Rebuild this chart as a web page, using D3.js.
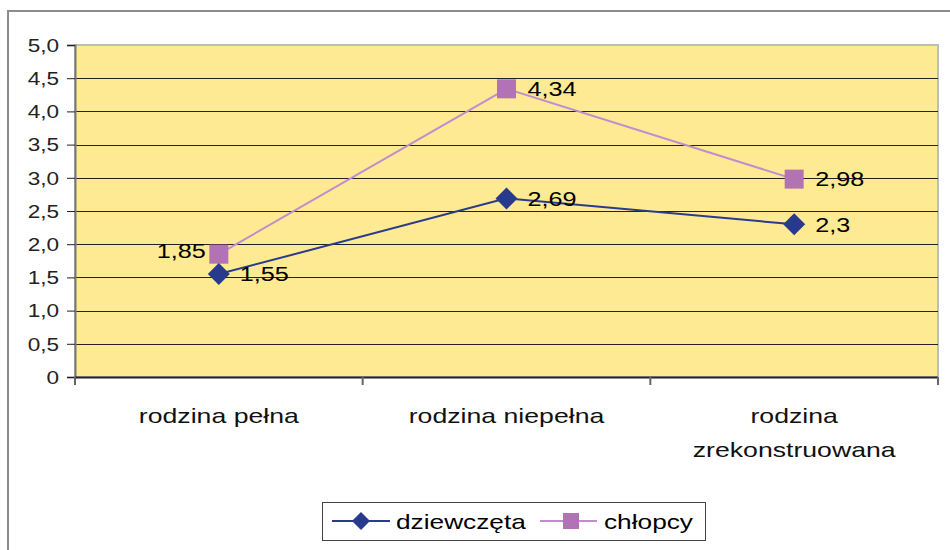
<!DOCTYPE html>
<html><head><meta charset="utf-8">
<script src="https://cdn.jsdelivr.net/npm/d3@7"></script>
<style>body{margin:0;background:#fff}svg{display:block;font-family:"Liberation Sans",Arial,sans-serif}</style>
</head><body>
<svg id="c" width="950" height="550"></svg>
<script>
const categories = ["rodzina pełna", "rodzina niepełna", "rodzina zrekonstruowana"];
const dziewczeta = [1.55, 2.69, 2.3];
const chlopcy = [1.85, 4.34, 2.98];
const yTicks = [0, 0.5, 1.0, 1.5, 2.0, 2.5, 3.0, 3.5, 4.0, 4.5, 5.0];
const seriesNames = ["dziewczęta", "chłopcy"];

const svg = d3.select("#c");
const L = 75, R = 938, T = 45, B = 377;
const fmt = v => v === 0 ? "0" : d3.format(".1f")(v).replace(".", ",");
const fmtLabel = v => String(v).replace(".", ",");

// horizontally stretched text helper
function stext(parent, px, py, txt, size, sx, anchor) {
  return parent.append("text")
    .attr("transform", `translate(${px},${py}) scale(${sx},1)`)
    .attr("x", 0).attr("y", 0)
    .attr("text-anchor", anchor || "start")
    .attr("dominant-baseline", "central")
    .attr("font-size", size).attr("fill", "#111").text(txt);
}

// outer frame
svg.append("rect").attr("x", 8).attr("y", 11).attr("width", 960).attr("height", 560)
  .attr("fill", "#fff").attr("stroke", "#8c8c8c").attr("stroke-width", 2);

const x = d3.scaleBand().domain(categories).range([L, R]);
const y = d3.scaleLinear().domain([0, 5]).range([B, T]);

svg.append("rect").attr("x", L).attr("y", T).attr("width", R - L).attr("height", B - T)
  .attr("fill", "#FDEA92").attr("stroke", "#bdbdbd").attr("stroke-width", 2);

// gridlines
svg.append("g").selectAll("line").data(yTicks.filter(v => v > 0 && v < 5)).join("line")
  .attr("x1", L).attr("x2", R).attr("y1", d => Math.round(y(d)) + 0.5).attr("y2", d => Math.round(y(d)) + 0.5)
  .attr("stroke", "#222").attr("stroke-width", 1);

// y axis
const ya = svg.append("g").attr("transform", `translate(${L},0)`)
  .call(d3.axisLeft(y).tickValues(yTicks).tickFormat("").tickSize(8));
ya.select(".domain").attr("stroke", "#777").attr("stroke-width", 2);
ya.selectAll(".tick line").attr("stroke", "#222");
yTicks.forEach(v => stext(svg, 59, y(v), fmt(v), 18.5, 1.22, "end").attr("fill", "#222"));

// x axis
svg.append("line").attr("x1", L).attr("x2", R).attr("y1", B + 0.5).attr("y2", B + 0.5).attr("stroke", "#222").attr("stroke-width", 2);
const bounds = categories.map(c => x(c)).concat([R]);
svg.append("g").selectAll("line").data(bounds).join("line")
  .attr("x1", d => d).attr("x2", d => d).attr("y1", B).attr("y2", B + 8)
  .attr("stroke", "#666").attr("stroke-width", 2);

const cx = c => x(c) + x.bandwidth() / 2;
const catLines = [["rodzina pełna"], ["rodzina niepełna"], ["rodzina", "zrekonstruowana"]];
categories.forEach((c, i) => {
  catLines[i].forEach((ln, j) => stext(svg, cx(c), 416 + j * 34, ln, 20.5, 1.3, "middle"));
});

const colors = { d: { line: "#2C3A8E", mark: "#283A8E" }, c: { line: "#C08ED0", mark: "#B173B3" } };
const line = d3.line().x((d, i) => cx(categories[i])).y(d => y(d));

svg.append("path").datum(chlopcy).attr("d", line).attr("fill", "none").attr("stroke", colors.c.line).attr("stroke-width", 2);
svg.append("path").datum(dziewczeta).attr("d", line).attr("fill", "none").attr("stroke", colors.d.line).attr("stroke-width", 2);

function diamond(g, px, py, s) {
  g.append("path").attr("d", `M${px},${py - s}L${px + s},${py}L${px},${py + s}L${px - s},${py}Z`).attr("fill", colors.d.mark);
}
function square(g, px, py, s) {
  g.append("rect").attr("x", px - s).attr("y", py - s).attr("width", 2 * s).attr("height", 2 * s).attr("fill", colors.c.mark);
}

chlopcy.forEach((v, i) => square(svg, cx(categories[i]), y(v), 9.5));
dziewczeta.forEach((v, i) => diamond(svg, cx(categories[i]), y(v), 11));

// data labels
chlopcy.forEach((v, i) => {
  if (i === 0) stext(svg, cx(categories[i]) - 13, y(v) - 3, fmtLabel(v), 21, 1.2, "end").attr("fill", "#000");
  else stext(svg, cx(categories[i]) + 21, y(v), fmtLabel(v), 21, 1.2, "start").attr("fill", "#000");
});
dziewczeta.forEach((v, i) => {
  stext(svg, cx(categories[i]) + 21, y(v), fmtLabel(v), 21, 1.2, "start").attr("fill", "#000");
});

// legend
const lg = svg.append("g");
lg.append("rect").attr("x", 322.5).attr("y", 502.5).attr("width", 383).attr("height", 38)
  .attr("fill", "#fff").attr("stroke", "#444").attr("stroke-width", 1);
const ly = 521;
lg.append("line").attr("x1", 332).attr("x2", 390).attr("y1", ly).attr("y2", ly).attr("stroke", colors.d.line).attr("stroke-width", 2);
diamond(lg, 361, ly, 9);
stext(lg, 396, ly, seriesNames[0], 21, 1.25, "start").attr("fill", "#000");
lg.append("line").attr("x1", 540).attr("x2", 597).attr("y1", ly).attr("y2", ly).attr("stroke", colors.c.line).attr("stroke-width", 2);
square(lg, 571, ly, 8);
stext(lg, 604, ly, seriesNames[1], 21, 1.25, "start").attr("fill", "#000");
</script>
</body></html>
